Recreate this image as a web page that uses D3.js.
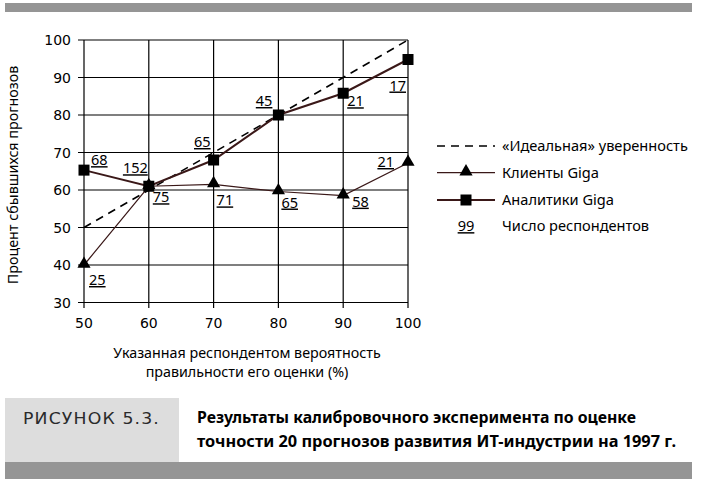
<!DOCTYPE html>
<html>
<head>
<meta charset="utf-8">
<script src="https://cdn.jsdelivr.net/npm/d3@7"></script>
<style>
  body { margin: 0; background: #fff; }
</style>
</head>
<body>
<div id="svg"></div>
<script>
const conf = [50, 60, 70, 80, 90, 100];
const ideal = [50, 60, 70, 80, 90, 100];
const clients = [40, 61, 61.5, 59.6, 58.5, 67.2];
const analysts = [65.3, 61, 68, 80, 85.8, 94.8];
const clientsN = [25, 75, 71, 65, 58, 21];
const analystsN = [68, 152, 65, 45, 21, 17];
const xTicks = [50, 60, 70, 80, 90, 100];
const yTicks = [30, 40, 50, 60, 70, 80, 90, 100];
const legendNames = ["«Идеальная» уверенность", "Клиенты Giga", "Аналитики Giga", "Число респондентов"];

// where each count label sits relative to its point
const clientsPos = [[5, 20, "start"], [4, 16, "start"], [3, 21, "start"], [3, 16, "start"], [9, 11, "start"], [-14, 4, "end"]];
const analystsPos = [[7, -5, "start"], [-1, -13, "end"], [-3, -13, "end"], [-6, -9, "end"], [4, 13, "start"], [-2, 31, "end"]];

const width = 711,
      height = 491;

const svg = d3.select("#svg")
  .append("svg")
    .attr("width", width)
    .attr("height", height);

const sans = "'Noto Sans', 'Open Sans', sans-serif";
const lineCol = "#3a1818";

// frame bars
svg.append("rect").attr("x", 5).attr("y", 3).attr("width", 687).attr("height", 9).attr("fill", "#959595");
svg.append("rect").attr("x", 5).attr("y", 462).attr("width", 687).attr("height", 17).attr("fill", "#959595");
svg.append("rect").attr("x", 5).attr("y", 398).attr("width", 174).attr("height", 64).attr("fill", "#dddddd");

const x = d3.scaleLinear().domain([50, 100]).range([84, 408]);
const y = d3.scaleLinear().domain([30, 100]).range([302.5, 40]);

// grid
const g = svg.append("g");
g.selectAll(".hg")
  .data(yTicks)
  .enter().append("line")
    .attr("x1", 78).attr("x2", 408)
    .attr("y1", d => y(d)).attr("y2", d => y(d))
    .attr("stroke", "#000").attr("stroke-width", 1.2);
g.selectAll(".vg")
  .data(xTicks)
  .enter().append("line")
    .attr("x1", d => x(d)).attr("x2", d => x(d))
    .attr("y1", 40).attr("y2", 308)
    .attr("stroke", "#000").attr("stroke-width", 1.2);

g.selectAll(".yl")
  .data(yTicks)
  .enter().append("text")
    .attr("x", 71).attr("y", d => y(d)).attr("dy", "0.36em")
    .attr("text-anchor", "end")
    .style("font-family", "'DejaVu Sans', sans-serif").style("font-size", "14px")
    .text(d => d);

g.selectAll(".xl")
  .data(xTicks)
  .enter().append("text")
    .attr("x", d => x(d)).attr("y", 328)
    .attr("text-anchor", "middle")
    .style("font-family", "'DejaVu Sans', sans-serif").style("font-size", "14px")
    .text(d => d);

// axis titles
svg.append("text")
    .attr("transform", "translate(18, 175) rotate(-90)")
    .attr("text-anchor", "middle")
    .style("font-family", sans).style("font-size", "14.3px")
    .text("Процент сбывшихся прогнозов");

svg.append("text")
    .attr("x", 247).attr("y", 358)
    .attr("text-anchor", "middle")
    .style("font-family", sans).style("font-size", "14.3px")
  .selectAll("tspan")
  .data(["Указанная респондентом вероятность", "правильности его оценки (%)"])
  .enter().append("tspan")
    .attr("x", 247).attr("dy", (d, i) => i ? 19 : 0)
    .text(d => d);

// series
const line = vals => d3.line()
    .x((d, i) => x(conf[i]))
    .y(d => y(d))(vals);

svg.append("path")
    .attr("d", line(ideal))
    .attr("fill", "none").attr("stroke", "#000")
    .attr("stroke-width", 1.6).attr("stroke-dasharray", "8,6");

svg.append("path")
    .attr("d", line(clients))
    .attr("fill", "none").attr("stroke", lineCol).attr("stroke-width", 1.2);

svg.append("path")
    .attr("d", line(analysts))
    .attr("fill", "none").attr("stroke", lineCol).attr("stroke-width", 2);

const tri = d3.symbol().type(d3.symbolTriangle).size(75);
svg.selectAll(".tri")
  .data(clients)
  .enter().append("path")
    .attr("d", tri)
    .attr("transform", (d, i) => `translate(${x(conf[i])},${y(d) - 1})`)
    .attr("fill", "#000");

svg.selectAll(".sq")
  .data(analysts)
  .enter().append("rect")
    .attr("x", (d, i) => x(conf[i]) - 5.5).attr("y", d => y(d) - 5.5)
    .attr("width", 11).attr("height", 11)
    .attr("fill", "#000");

function counts(vals, ns, pos) {
  svg.selectAll(null)
    .data(ns)
    .enter().append("text")
      .attr("x", (d, i) => x(conf[i]) + pos[i][0])
      .attr("y", (d, i) => y(vals[i]) + pos[i][1])
      .attr("text-anchor", (d, i) => pos[i][2])
      .style("font-family", sans).style("font-size", "14.5px")
      .style("text-decoration", "underline")
      .text(d => d);
}
counts(clients, clientsN, clientsPos);
counts(analysts, analystsN, analystsPos);

// legend
const leg = svg.append("g").attr("transform", "translate(437, 146)");
const rows = leg.selectAll("g")
  .data(legendNames)
  .enter().append("g")
    .attr("transform", (d, i) => `translate(0, ${[0, 26.7, 54, 80][i]})`);

rows.append("text")
    .attr("x", 65).attr("dy", "0.35em")
    .style("font-family", sans).style("font-size", "14.6px")
    .text(d => d);

rows.filter((d, i) => i < 3).append("line")
    .attr("x1", 0).attr("x2", 58)
    .attr("stroke", (d, i) => i ? lineCol : "#000")
    .attr("stroke-width", (d, i) => [1.6, 1.2, 2][i])
    .attr("stroke-dasharray", (d, i) => i ? null : "8,6");

rows.filter((d, i) => i === 1).append("path")
    .attr("d", tri).attr("transform", "translate(29,-1)").attr("fill", "#000");
rows.filter((d, i) => i === 2).append("rect")
    .attr("x", 23.5).attr("y", -5.5).attr("width", 11).attr("height", 11).attr("fill", "#000");
rows.filter((d, i) => i === 3).append("text")
    .attr("x", 29).attr("dy", "0.35em").attr("text-anchor", "middle")
    .style("font-family", sans).style("font-size", "14.6px")
    .style("text-decoration", "underline")
    .text("99");

// caption
svg.append("text")
    .attr("x", 23).attr("y", 424)
    .attr("fill", "#2a2a2a")
    .attr("textLength", 137)
    .attr("lengthAdjust", "spacingAndGlyphs")
    .style("font-family", "'DejaVu Sans', sans-serif").style("font-size", "15px")
    .style("letter-spacing", "1px")
    .text("РИСУНОК 5.3.");

svg.selectAll(".cap")
  .data(["Результаты калибровочного эксперимента по оценке", "точности 20 прогнозов развития ИТ-индустрии на 1997 г."])
  .enter().append("text")
    .attr("x", 197).attr("y", (d, i) => 423 + i * 23.5)
    .attr("textLength", (d, i) => [439, 479][i])
    .attr("lengthAdjust", "spacingAndGlyphs")
    .style("font-family", "'Liberation Sans Narrow', 'Noto Sans', sans-serif")
    .style("font-size", "16px").style("font-weight", "bold")
    .text(d => d);
</script>
</body>
</html>
